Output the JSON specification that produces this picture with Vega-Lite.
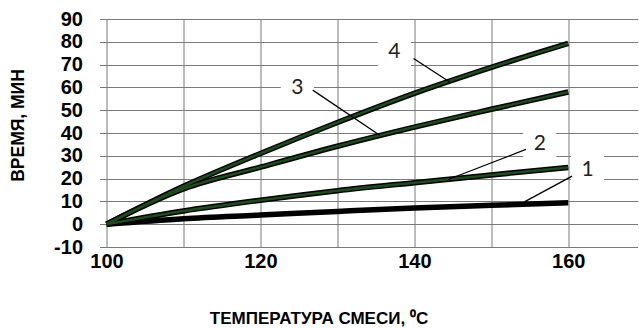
{
  "$schema": "https://vega.github.io/schema/vega-lite/v6.json",
  "width": 531,
  "height": 228,
  "autosize": {"type": "none"},
  "padding": {"left": 106.5, "top": 19, "right": 1.5, "bottom": 81},
  "background": "white",
  "config": {"view": {"stroke": null}, "axis": {"labelOverlap": false, "labelSeparation": -12}},
  "datasets": {
    "curves": [
      {"series": "1", "t": 100, "time": 0},
      {"series": "1", "t": 110, "time": 2.4},
      {"series": "1", "t": 120, "time": 4.0},
      {"series": "1", "t": 130, "time": 5.6},
      {"series": "1", "t": 140, "time": 7.1},
      {"series": "1", "t": 150, "time": 8.3},
      {"series": "1", "t": 160, "time": 9.4},
      {"series": "2", "t": 100, "time": 0},
      {"series": "2", "t": 110, "time": 5.8},
      {"series": "2", "t": 120, "time": 10.5},
      {"series": "2", "t": 130, "time": 14.7},
      {"series": "2", "t": 140, "time": 18.2},
      {"series": "2", "t": 150, "time": 21.6},
      {"series": "2", "t": 160, "time": 24.9},
      {"series": "3", "t": 100, "time": 0},
      {"series": "3", "t": 110, "time": 15.5},
      {"series": "3", "t": 120, "time": 25.0},
      {"series": "3", "t": 130, "time": 34.2},
      {"series": "3", "t": 140, "time": 42.6},
      {"series": "3", "t": 150, "time": 50.4},
      {"series": "3", "t": 160, "time": 58.0},
      {"series": "4", "t": 100, "time": 0},
      {"series": "4", "t": 110, "time": 16.6},
      {"series": "4", "t": 120, "time": 31.0},
      {"series": "4", "t": 130, "time": 44.6},
      {"series": "4", "t": 140, "time": 57.4},
      {"series": "4", "t": 150, "time": 68.8},
      {"series": "4", "t": 160, "time": 79.3}
    ],
    "labels": [
      {"name": "4", "t": 137.4, "time": 75.4},
      {"name": "3", "t": 124.8, "time": 59.8},
      {"name": "2", "t": 156.3, "time": 35.1},
      {"name": "1", "t": 162.5, "time": 23.7}
    ],
    "leaders": [
      {"name": "4", "t": 139.9, "time": 72.7, "t2": 144.6, "time2": 62.4},
      {"name": "3", "t": 126.8, "time": 58.8, "t2": 135.5, "time2": 39.0},
      {"name": "2", "t": 154.5, "time": 32.8, "t2": 144.4, "time2": 19.6},
      {"name": "1", "t": 160.5, "time": 21.1, "t2": 154.3, "time2": 9.8}
    ]
  },
  "layer": [
    {
      "data": {"name": "labels"},
      "mark": {"type": "point", "shape": "square", "filled": true, "color": "white", "opacity": 1, "size": 1100, "strokeWidth": 0},
      "encoding": {
        "x": {
          "field": "t", "type": "quantitative",
          "scale": {"domain": [100, 169], "nice": false, "zero": false},
          "axis": {
            "values": [100, 110, 120, 130, 140, 150, 160],
            "labelExpr": "datum.value % 20 == 0 ? datum.label : ''",
            "grid": true, "gridColor": "#7a7a7a", "gridWidth": 1, "gridOpacity": 1,
            "domain": false, "ticks": false,
            "labelFont": "Liberation Sans", "labelFontSize": 20, "labelFontWeight": "bold", "labelColor": "#000",
            "labelPadding": 4, "labelFlush": false, "labelOverlap": false,
            "title": "ТЕМПЕРАТУРА СМЕСИ, ⁰С",
            "titleFont": "Liberation Sans", "titleFontSize": 17, "titleFontWeight": "bold", "titleColor": "#000",
            "titleX": 212, "titleY": 71, "titleAnchor": null, "titleAlign": "center", "titleBaseline": "middle"
          }
        },
        "y": {
          "field": "time", "type": "quantitative",
          "scale": {"domain": [-10, 90], "nice": false, "zero": false},
          "axis": {
            "values": [-10, 0, 10, 20, 30, 40, 50, 60, 70, 80, 90],
            "tickCount": 11,
            "labelExpr": "datum.value < 0 ? '-' + abs(datum.value) : '' + datum.value",
            "grid": true, "gridColor": "#7a7a7a", "gridWidth": 1, "gridOpacity": 1,
            "domain": false, "ticks": true, "tickSize": 7, "tickColor": "#7a7a7a",
            "labelFont": "Liberation Sans", "labelFontSize": 20, "labelFontWeight": "bold", "labelColor": "#000",
            "labelPadding": 17, "labelFlush": false, "labelOverlap": false, "labelSeparation": -12, "labelLineHeight": 18,
            "title": "ВРЕМЯ, МИН",
            "titleFont": "Liberation Sans", "titleFontSize": 17.5, "titleFontWeight": "bold", "titleColor": "#000",
            "titleX": -88, "titleY": 106, "titleAngle": 270, "titleAnchor": null, "titleAlign": "center", "titleBaseline": "middle"
          }
        }
      }
    },
    {
      "data": {"name": "curves"},
      "mark": {"type": "line", "color": "#000", "strokeWidth": 5.5, "interpolate": "monotone", "strokeCap": "butt"},
      "encoding": {
        "x": {"field": "t", "type": "quantitative"},
        "y": {"field": "time", "type": "quantitative"},
        "detail": {"field": "series"}
      }
    },
    {
      "data": {"name": "curves"},
      "transform": [{"filter": "datum.series != '1'"}],
      "mark": {"type": "line", "color": "#1f4a1f", "strokeWidth": 2.6, "interpolate": "monotone", "strokeCap": "butt"},
      "encoding": {
        "x": {"field": "t", "type": "quantitative"},
        "y": {"field": "time", "type": "quantitative"},
        "detail": {"field": "series"}
      }
    },
    {
      "data": {"name": "leaders"},
      "mark": {"type": "rule", "color": "#000", "strokeWidth": 1.3},
      "encoding": {
        "x": {"field": "t", "type": "quantitative"},
        "y": {"field": "time", "type": "quantitative"},
        "x2": {"field": "t2"},
        "y2": {"field": "time2"}
      }
    },
    {
      "data": {"name": "labels"},
      "mark": {"type": "text", "font": "Lato", "fontSize": 21, "color": "#222", "align": "center", "baseline": "middle"},
      "encoding": {
        "x": {"field": "t", "type": "quantitative"},
        "y": {"field": "time", "type": "quantitative"},
        "text": {"field": "name"}
      }
    }
  ]
}
